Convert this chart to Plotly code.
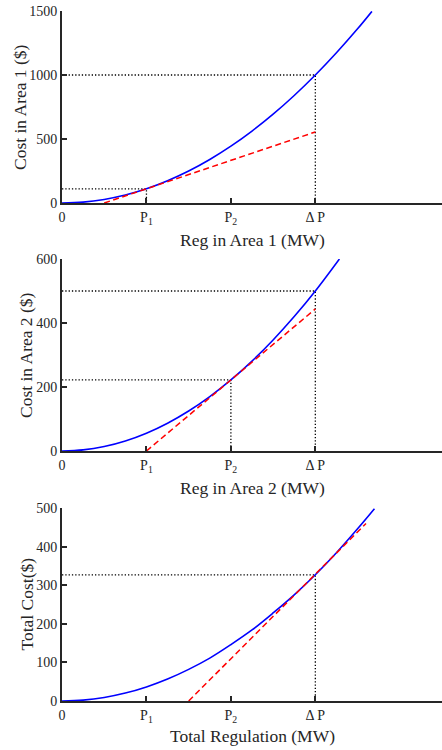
import plotly.graph_objects as go

# ---- tick positions / labels ----
tick_vals = [0, 1, 2, 3]
tick_text = ["0", "P<sub>1</sub>", "P<sub>2</sub>", "Δ P"]

# ---- Area 1 ----
x1 = [0, 0.25, 0.5, 0.75, 1, 1.25, 1.5, 1.75, 2, 2.25, 2.5, 2.75, 3, 3.25, 3.5, 3.67]
cost1 = [0, 7, 28, 62, 111, 174, 250, 340, 444, 562, 694, 840, 1000, 1174, 1361, 1497]
tan1_x = [0.5, 3]
tan1_y = [0, 555]
ref1_x = [1, 3]
ref1_y = [111, 1000]

# ---- Area 2 ----
x2 = [0, 0.25, 0.5, 0.75, 1, 1.25, 1.5, 1.75, 2, 2.25, 2.5, 2.75, 3, 3.285]
cost2 = [0, 3.5, 13.9, 31.3, 55.6, 86.9, 125, 170, 222, 281, 347, 420, 500, 600]
tan2_x = [1, 3]
tan2_y = [0, 444]
ref2_x = [2, 3]
ref2_y = [222, 500]

# ---- Total ----
x3 = [0, 0.25, 0.5, 0.75, 1, 1.25, 1.5, 1.75, 2, 2.25, 2.5, 2.75, 3, 3.25, 3.5, 3.7]
cost3 = [0, 2.3, 9.1, 20.5, 36.4, 56.9, 81.9, 111, 146, 184, 228, 275, 327, 384, 446, 498]
tan3_x = [1.5, 3.6]
tan3_y = [0, 460]
ref3_x = [3]
ref3_y = [327]

y_ranges = [[0, 1500], [0, 600], [0, 500]]
y_ticks = [[0, 500, 1000, 1500], [0, 200, 400, 600], [0, 100, 200, 300, 400, 500]]
x_titles = ["Reg in Area 1 (MW)", "Reg in Area 2 (MW)", "Total Regulation (MW)"]
y_titles = ["Cost in Area 1 ($)", "Cost in Area 2 ($)", "Total Cost($)"]

W, H = 442, 750
ML, MT, MB = 62, 11, 49
plot_w = W - ML
plot_h = H - MT - MB
# pixel bands (top, bottom) of each panel
bands = [(11, 203), (259, 451), (508, 701)]
x_title_py = [240, 488, 736]
y_title_px = [20, 26, 26]

BLUE = "#0000FF"
RED = "#FF0000"
AX = "#262626"
FONT = "Liberation Serif"

fig = go.Figure()

curves = [(x1, cost1, tan1_x, tan1_y), (x2, cost2, tan2_x, tan2_y), (x3, cost3, tan3_x, tan3_y)]
refs = [(ref1_x, ref1_y), (ref2_x, ref2_y), (ref3_x, ref3_y)]

for i in range(3):
    sfx = "" if i == 0 else str(i + 1)
    xa, ya = "x" + sfx, "y" + sfx
    for rx, ry in zip(*refs[i]):
        fig.add_trace(go.Scatter(x=[0, rx, rx], y=[ry, ry, 0], mode="lines",
                                 line=dict(color="black", width=1.3, dash="1.3px,2px"),
                                 xaxis=xa, yaxis=ya, showlegend=False, hoverinfo="skip"))
    cx, cy, tx, ty = curves[i]
    fig.add_trace(go.Scatter(x=cx, y=cy, mode="lines", line=dict(color=BLUE, width=1.6, shape="spline"),
                             xaxis=xa, yaxis=ya, showlegend=False))
    fig.add_trace(go.Scatter(x=tx, y=ty, mode="lines", line=dict(color=RED, width=1.5, dash="6px,3.5px"),
                             xaxis=xa, yaxis=ya, showlegend=False))

layout = dict(width=W, height=H, margin=dict(l=ML, r=0, t=MT, b=MB, autoexpand=False),
              paper_bgcolor="white", plot_bgcolor="white",
              font=dict(family=FONT, size=14, color="#262626"), showlegend=False)

annotations = []
for i in range(3):
    sfx = "" if i == 0 else str(i + 1)
    top, bot = bands[i]
    d0 = (H - MB - bot) / plot_h
    d1 = (H - MB - top) / plot_h
    layout["xaxis" + sfx] = dict(domain=[0, 1], range=[0, 4.5], anchor="y" + sfx,
                                 tickmode="array", tickvals=tick_vals, ticktext=tick_text,
                                 ticks="inside", ticklen=5, tickwidth=2, tickcolor=AX,
                                 showline=True, linecolor=AX, linewidth=2, showgrid=False,
                                 zeroline=False, automargin=False,
                                 tickfont=dict(size=14, family=FONT))
    layout["yaxis" + sfx] = dict(domain=[d0, d1], range=y_ranges[i], anchor="x" + sfx,
                                 tickmode="array", tickvals=y_ticks[i],
                                 ticks="inside", ticklen=5, tickwidth=2, tickcolor=AX,
                                 showline=True, linecolor=AX, linewidth=2, showgrid=False,
                                 zeroline=False, automargin=False,
                                 tickfont=dict(size=14, family=FONT))
    annotations.append(dict(text=x_titles[i], xref="paper", yref="paper",
                            x=0.5, y=(H - MB - x_title_py[i]) / plot_h,
                            xanchor="center", yanchor="middle", showarrow=False,
                            font=dict(size=17.5, family=FONT, color="#262626")))
    annotations.append(dict(text=y_titles[i], xref="paper", yref="paper",
                            x=(y_title_px[i] - ML) / plot_w, y=(d0 + d1) / 2,
                            xanchor="center", yanchor="middle", textangle=-90, showarrow=False,
                            font=dict(size=17.5, family=FONT, color="#262626")))

layout["annotations"] = annotations
fig.update_layout(**layout)
fig.write_html("out.html", config={"displayModeBar": False},
               post_script="document.body.style.margin='0';document.body.style.overflow='hidden';")
